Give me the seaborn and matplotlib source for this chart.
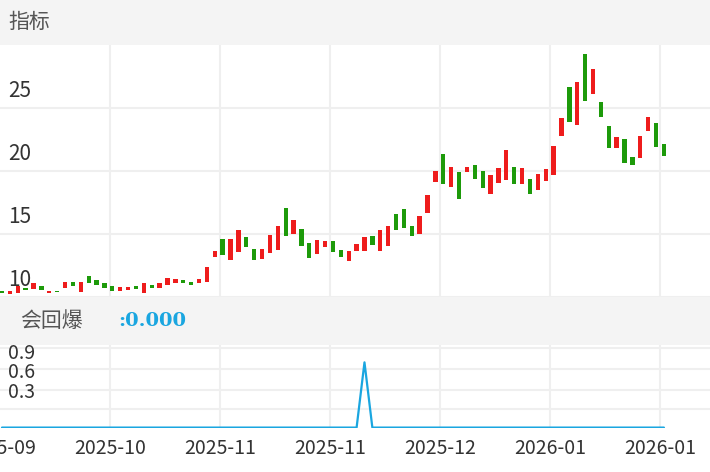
import matplotlib
matplotlib.use("Agg")
import matplotlib.pyplot as plt
import seaborn as sns
import numpy as np
import pandas as pd
from matplotlib.patches import Rectangle

sns.set_theme(style="white")
plt.rcParams['font.family'] = ['Noto Sans CJK SC', 'DejaVu Sans']

opens = [10.45,10.24,10.32,10.71,10.63,10.90,10.32,10.45,10.71,11.16,10.40,11.69,11.38,11.11,10.85,
         10.50,10.58,10.85,10.32,10.93,10.71,10.95,11.11,11.32,11.19,11.11,11.16,13.15,14.60,12.96,
         13.54,14.74,13.84,13.04,13.49,13.70,17.06,15.03,15.42,14.29,13.41,13.97,14.47,13.70,12.86,
         13.62,13.62,14.81,13.68,14.02,16.61,16.98,15.66,15.00,16.67,19.13,21.35,18.70,19.92,19.89,
         20.50,19.97,18.20,19.05,19.31,20.34,18.97,19.39,18.49,19.18,19.71,22.75,26.64,23.62,29.31,
         26.08,25.45,23.60,21.83,22.57,21.11,21.03,23.17,23.84,22.12]
closes = [10.32,10.45,10.85,10.58,11.11,10.53,10.45,10.37,11.16,10.90,11.16,11.11,10.98,10.71,10.45,
          10.79,10.77,10.66,11.11,10.69,11.11,11.48,11.43,11.11,10.93,11.43,12.35,13.68,13.31,14.60,
          15.29,13.97,12.96,13.84,14.95,15.66,14.81,16.14,14.02,13.10,14.55,14.42,13.54,13.17,13.62,
          14.23,14.76,14.10,15.29,15.61,15.34,15.48,14.81,16.46,18.12,19.97,18.97,20.34,17.78,20.34,
          19.34,18.68,19.66,20.24,21.69,18.99,20.24,18.17,19.76,20.16,21.96,24.21,23.86,27.09,25.56,
          28.10,24.29,21.83,22.72,20.63,20.45,22.80,24.31,21.93,21.19]
indicator = [0.0]*85
indicator[46] = 0.79
tick_pos = [-0.25, 13.71, 27.66, 41.62, 55.58, 69.54, 83.50]
tick_labels = ["2025-09", "2025-10", "2025-11", "2025-11", "2025-12", "2026-01", "2026-01"]
y_ticks = [10, 15, 20, 25]

n = len(opens)
df = pd.DataFrame({"i": np.arange(n), "open": opens, "close": closes, "ind": indicator})
df["lo"] = df[["open", "close"]].min(axis=1)
df["h"] = (df["close"] - df["open"]).abs().clip(lower=0.12)
df["color"] = np.where(df["close"] >= df["open"], "#ee1c1c", "#1d9a0a")

fig = plt.figure(figsize=(7.1, 4.72), dpi=100)
fig.patch.set_facecolor("white")
H = 472.0
for y0, y1 in [(0, 45), (297, 345)]:
    fig.patches.append(Rectangle((0, 1 - y1 / H), 1, (y1 - y0) / H, transform=fig.transFigure,
                                 facecolor="#f4f4f4", edgecolor="none", zorder=0))
fig.text(8 / 710, 1 - 22 / H, "指标", fontsize=15, color="#555555", va="center")
fig.text(20 / 710, 1 - 321 / H, "会回爆", fontsize=15, color="#555555", va="center")
fig.text(118 / 710, 1 - 321 / H, ":0.000", fontsize=14, color="#1aa6e0", va="center",
         fontweight="bold", family="DejaVu Serif")

xlim = (-2 / 7.88, 708 / 7.88)
grid_c = "#efefef"

ax = fig.add_axes([0, 1 - 297 / H, 1, 252 / H])
ax.bar(df["i"], df["h"], bottom=df["lo"], width=0.55, color=df["color"], linewidth=0, zorder=3)
ax.set_xlim(*xlim)
ax.set_ylim(10, 30)
for t in tick_pos[1:]:
    ax.axvline(t, color=grid_c, lw=1.5, zorder=1)
for y in y_ticks:
    ax.axhline(y, color=grid_c, lw=1.5, zorder=1)
    ax.text(8 / 7.88 + xlim[0], y + 0.45, str(y), fontsize=15, color="#333333", va="bottom", zorder=4)
ax.set_xticks([]); ax.set_yticks([])
for s in ax.spines.values():
    s.set_visible(False)

ax2 = fig.add_axes([0, 1 - 428 / H, 1, 83 / H])
sns.lineplot(data=df, x="i", y="ind", ax=ax2, color="#1aa6e0", lw=1.6, zorder=3)
ax2.set_xlim(*xlim)
ax2.set_ylim(-0.005, 1.0)
for t in tick_pos[1:]:
    ax2.axvline(t, color=grid_c, lw=1.5, zorder=1)
for y in [0.22, 0.46, 0.71, 0.96]:
    ax2.axhline(y, color=grid_c, lw=1.5, zorder=1)
for lab, y in [("0.9", 0.90), ("0.6", 0.67), ("0.3", 0.42)]:
    ax2.text(8 / 7.88 + xlim[0], y, lab, fontsize=14, color="#333333", va="center", zorder=4)
ax2.set_xlabel(""); ax2.set_ylabel("")
ax2.set_yticks([])
ax2.set_xticks(tick_pos)
ax2.set_xticklabels(tick_labels, fontsize=14, color="#333333")
ax2.tick_params(axis="x", length=0, pad=7)
for s in ax2.spines.values():
    s.set_visible(False)

fig.savefig("out.png", dpi=100)
